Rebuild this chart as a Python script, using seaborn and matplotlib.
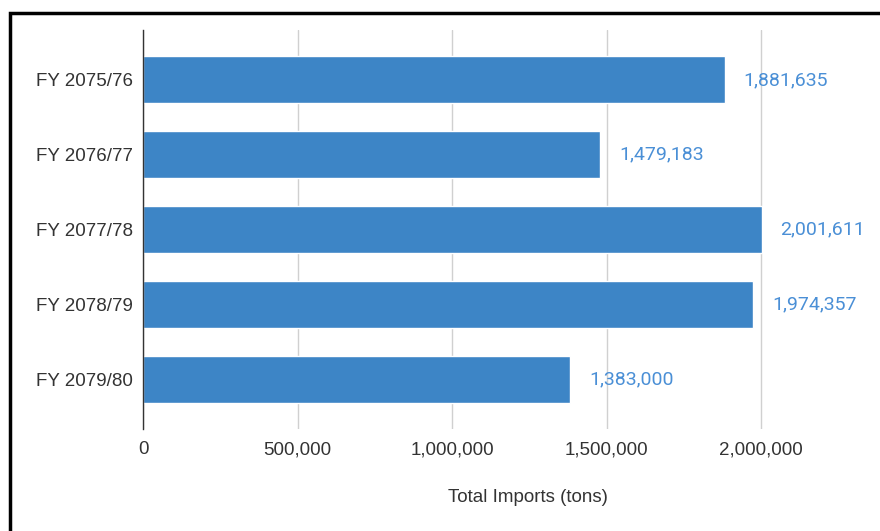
import matplotlib
matplotlib.use("Agg")
import matplotlib.pyplot as plt
import seaborn as sns
import pandas as pd
from matplotlib.patches import Rectangle
from matplotlib.ticker import FuncFormatter

# Fiscal years and total imports (tons)
years = ["FY 2075/76", "FY 2076/77", "FY 2077/78", "FY 2078/79", "FY 2079/80"]
imports = [1881635, 1479183, 2001611, 1974357, 1383000]
x_ticks = [0, 500000, 1000000, 1500000, 2000000]

df = pd.DataFrame({"year": years, "imports": imports})

sns.set_theme(style="white")
plt.rcParams["font.family"] = ["Liberation Sans", "DejaVu Sans"]

fig = plt.figure(figsize=(8.8, 5.31), dpi=100)
ax = fig.add_axes([143 / 880, 1 - 429 / 531, (792 - 143) / 880, (429 - 30) / 531])

bar_color = "#3d85c6"
label_color = "#4a8fd6"

sns.barplot(data=df, x="imports", y="year", orient="h", color=bar_color,
            saturation=1, width=0.63, ax=ax, zorder=3)

ax.set_xlim(0, 2100000)
ax.set_ylim(4 + 50 / 75, -50 / 75)
ax.set_xticks(x_ticks)
ax.xaxis.set_major_formatter(FuncFormatter(lambda v, p: f"{int(v):,}"))
ax.grid(axis="x", color="#d0d0d0", linewidth=1.0, zorder=0)
ax.grid(axis="y", visible=False)

for side in ["top", "right", "bottom"]:
    ax.spines[side].set_visible(False)
ax.spines["left"].set_color("#333333")
ax.spines["left"].set_linewidth(1.0)
ax.spines["left"].set_zorder(4)

ax.tick_params(axis="both", length=0, labelsize=13.5, colors="#333333")
ax.tick_params(axis="x", pad=9)
ax.tick_params(axis="y", pad=7)
ax.set_ylabel("")
ax.set_xlabel("Total Imports (tons)", fontsize=13.5, color="#333333", va="center")
ax.xaxis.set_label_coords((528 - 143) / 649, (429 - 497) / 399)

for bar, val in zip(ax.patches, imports):
    ax.annotate(f"{val:,}", xy=(bar.get_width(), bar.get_y() + bar.get_height() / 2),
                xytext=(19, 0), textcoords="offset pixels",
                ha="left", va="center", fontsize=14, color=label_color,
                family=["Roboto", "DejaVu Sans"])

# Black frame around the chart area
fig.patches.append(Rectangle((10 / 880, -0.1), 1.2, 1 - 13 / 531 + 0.1,
                             transform=fig.transFigure, fill=False,
                             edgecolor="black", linewidth=2.5))

fig.savefig("out.png", dpi=100)
